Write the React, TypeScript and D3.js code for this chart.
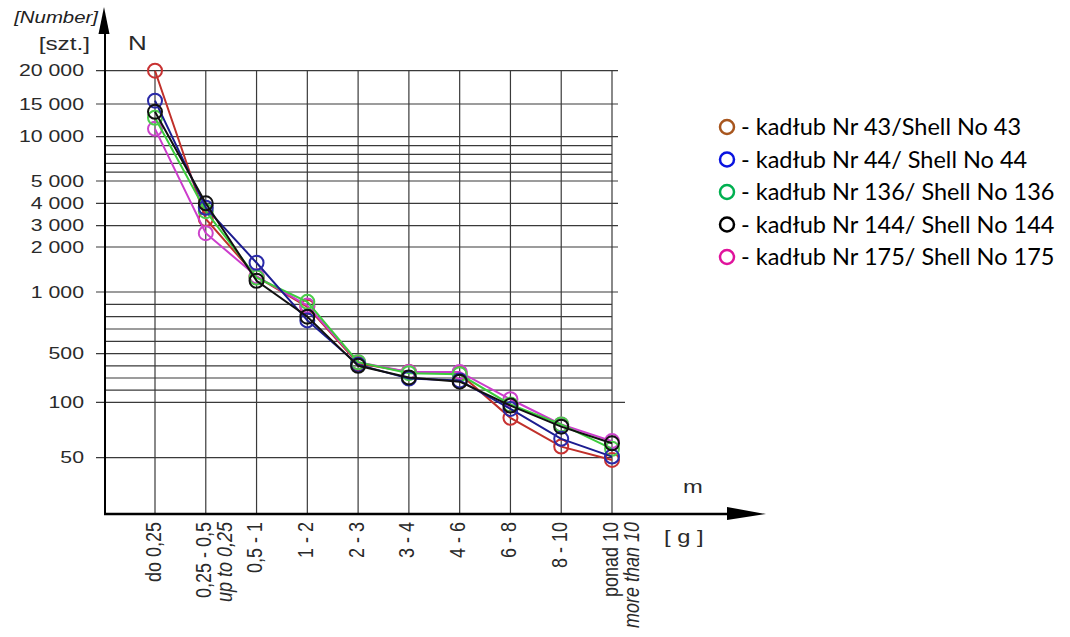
import { format, line, scaleLinear, scalePoint } from "d3";

const categories = ["do 0,25", "0,25 - 0,5", "0,5 - 1", "1 - 2", "2 - 3", "3 - 4", "4 - 6", "6 - 8", "8 - 10", "ponad 10"];
const categoriesEn = ["", "up to 0,25", "", "", "", "", "", "", "", "more than 10"];

const shell43 = [20000, 3300, 1340, 880, 420, 350, 335, 86, 60, 48];
const shell44 = [15500, 3800, 1650, 770, 410, 295, 280, 94, 67, 51];
const shell136 = [12900, 3650, 1320, 920, 430, 340, 330, 98, 80, 58];
const shell144 = [13800, 4000, 1250, 800, 400, 305, 270, 97, 78, 63];
const shell175 = [11200, 2650, 1350, 890, 430, 350, 350, 125, 80, 65];

const legendLabels = [
  "- kadłub Nr 43/Shell No 43",
  "- kadłub Nr 44/ Shell No 44",
  "- kadłub Nr 136/ Shell No 136",
  "- kadłub Nr 144/ Shell No 144",
  "- kadłub Nr 175/ Shell No 175",
];

const gridValues = [20000, 15000, 10000, 9000, 8000, 7000, 6000, 5000, 4000, 3000, 2000, 1000, 900, 800, 700, 600, 500, 400, 300, 200, 100, 50];
const tickValues = [20000, 15000, 10000, 5000, 4000, 3000, 2000, 1000, 500, 100, 50];

// hand drawn axis: piecewise linear between labelled values
const yAnchors = [50, 100, 500, 1000, 2000, 3000, 4000, 5000, 10000, 15000, 20000];
const yAnchorPx = [457.7, 402.3, 353.7, 292, 247, 225.7, 203.3, 181, 136.7, 104, 70.7];

const series = [
  { values: shell43, line: "#c0302a", marker: "#c83232", legend: "#a8561e" },
  { values: shell175, line: "#cc3ccc", marker: "#cc44cc", legend: "#e0139c" },
  { values: shell136, line: "#3ccc3c", marker: "#4ccc4c", legend: "#00b050" },
  { values: shell44, line: "#1c1c90", marker: "#2a2aa8", legend: "#0a14e0" },
  { values: shell144, line: "#111111", marker: "#111111", legend: "#000000" },
];
const legendOrder = [0, 3, 2, 4, 1];

const axisX = 105;
const axisY = 514;

const x = scalePoint<string>().domain(categories).range([155, 612]);
const y = scaleLinear().domain(yAnchors).range(yAnchorPx);
const fmt = (v: number) => format(",")(v).replace(/,/g, " ");

export default function App() {
  const path = line<number>()
    .x((_, i) => x(categories[i]) as number)
    .y((d) => y(d));
  const top = y(20000);

  return (
    <svg
      width={1070}
      height={637}
      style={{ position: "absolute", left: 0, top: 0, background: "#fff" }}
      fontFamily="'Liberation Sans', Arial, sans-serif"
    >
      {/* horizontal grid */}
      {gridValues.map((v) => {
        const labelled = tickValues.includes(v);
        const end = v === 100 ? 625 : labelled && v >= 1000 ? 618 : 612;
        return (
          <line
            key={`h${v}`}
            x1={labelled ? 96 : axisX}
            x2={end}
            y1={y(v)}
            y2={y(v)}
            stroke="#3a3a3a"
            strokeWidth={1.2}
          />
        );
      })}
      {/* vertical grid */}
      {categories.map((c) => (
        <line key={`v${c}`} x1={x(c)} x2={x(c)} y1={top} y2={axisY} stroke="#3a3a3a" strokeWidth={1.2} />
      ))}

      {/* y tick labels */}
      {tickValues.map((v) => (
        <text
          key={`t${v}`}
          transform={`translate(84,${y(v)}) scale(1.25,1)`}
          textAnchor="end"
          dominantBaseline="central"
          fontSize={17}
          fill="#2a2a2a"
        >
          {fmt(v)}
        </text>
      ))}

      {/* x labels */}
      {categories.map((c, i) => (
        <g key={`x${c}`}>
          <text
            transform={`translate(${(x(c) as number) - 2},522) scale(1.2,1) rotate(-90)`}
            textAnchor="end"
            dominantBaseline="central"
            fontSize={18}
            fill="#2a2a2a"
          >
            {c}
          </text>
          {categoriesEn[i] && (
            <text
              transform={`translate(${(x(c) as number) + 19},522) scale(1.2,1) rotate(-90)`}
              textAnchor="end"
              dominantBaseline="central"
              fontSize={18}
              fontStyle="italic"
              fill="#2a2a2a"
            >
              {categoriesEn[i]}
            </text>
          )}
        </g>
      ))}

      {/* axes */}
      <line x1={axisX} x2={axisX} y1={axisY + 1} y2={28} stroke="#000" strokeWidth={2} />
      <polygon points={`104,7 98.5,34 109.5,34`} fill="#000" />
      <line x1={axisX - 1} x2={732} y1={axisY} y2={axisY} stroke="#000" strokeWidth={2.5} />
      <polygon points={`727,507 766,514 727,520`} fill="#000" />

      {/* axis titles */}
      <text transform="translate(98,23) scale(1.2,1)" textAnchor="end" fontSize={17} fontStyle="italic" fill="#222">
        [Number]
      </text>
      <text transform="translate(90,50) scale(1.35,1)" textAnchor="end" fontSize={18} fill="#2a2a2a">
        [szt.]
      </text>
      <text transform="translate(128,50) scale(1.3,1)" fontSize={20} fill="#2a2a2a">
        N
      </text>
      <text transform="translate(683,493) scale(1.25,1)" fontSize={19} fill="#2a2a2a">
        m
      </text>
      <text transform="translate(664,543) scale(1.25,1)" fontSize={19} fill="#2a2a2a">
        [ g ]
      </text>

      {/* series */}
      {series.map((s, si) => (
        <g key={`s${si}`}>
          <path d={path(s.values) ?? ""} fill="none" stroke={s.line} strokeWidth={2} />
          {s.values.map((v, i) => (
            <circle
              key={i}
              cx={x(categories[i])}
              cy={y(v)}
              r={7}
              fill="none"
              stroke={s.marker}
              strokeWidth={2}
            />
          ))}
        </g>
      ))}

      {/* legend */}
      {legendOrder.map((si, k) => (
        <g key={`l${si}`} transform={`translate(727,${127 + k * 32.5})`}>
          <circle r={7} fill="none" stroke={series[si].legend} strokeWidth={2.5} />
          <text x={14} y={8} fontFamily="Lato, 'Open Sans', sans-serif" fontSize={23.5} fill="#000">
            {legendLabels[k]}
          </text>
        </g>
      ))}
    </svg>
  );
}
